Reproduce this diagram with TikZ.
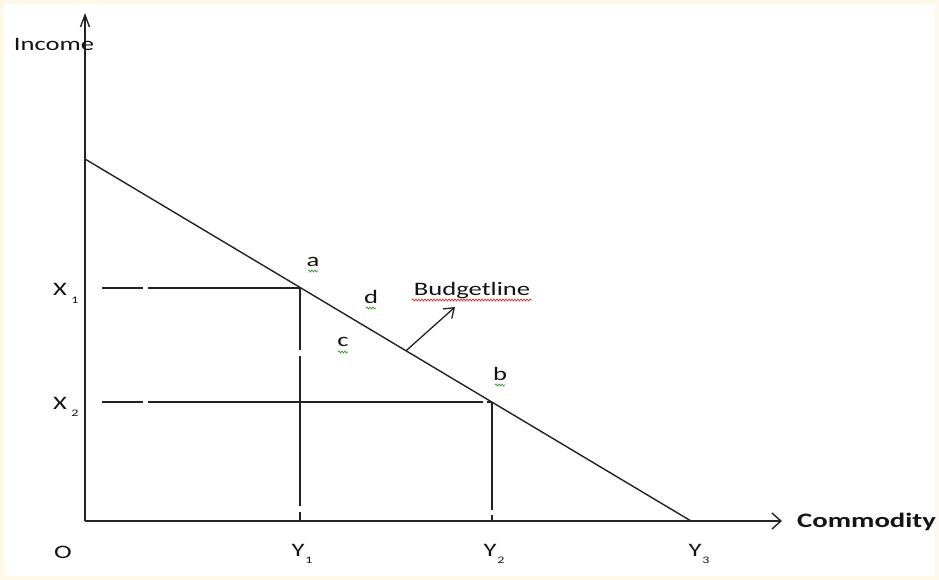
\documentclass[tikz,border=0pt]{standalone}
\usepackage{fontspec}
\setmainfont{Carlito}[FakeStretch=1.4]
\usetikzlibrary{arrows.meta,decorations.pathmorphing}
\definecolor{cream}{RGB}{253,248,232}
\definecolor{ink}{RGB}{35,35,35}
\definecolor{txt}{RGB}{20,20,20}
\definecolor{spellgreen}{RGB}{60,150,50}
\definecolor{spellred}{RGB}{215,45,45}
\begin{document}
\begin{tikzpicture}[x=1pt,y=-1pt,
  axis/.style={draw=ink,line width=1.4pt},
  guide/.style={draw=ink,line width=1.4pt},
  lbl/.style={inner sep=0pt,text=txt,font=\fontsize{19}{22}\selectfont},
  sub/.style={inner sep=0pt,text=txt,font=\fontsize{10}{11}\selectfont},
  squig/.style={decorate,decoration={snake,segment length=3pt,amplitude=1pt},line width=0.7pt}]
\fill[cream] (0,0) rectangle (939,580);
\fill[white] (4,4) rectangle (935,576);
\useasboundingbox (0,0) rectangle (939,580);
% key points
\coordinate (O) at (85,521);
\coordinate (ytop) at (85,13);
\coordinate (xend) at (782,521);
\coordinate (B0) at (85,159);
\coordinate (B1) at (691,521);
\coordinate (A) at (300,288);
\coordinate (B) at (492,402);
\coordinate (X1s) at (102,288);
\coordinate (X2s) at (102,402);
\coordinate (Y1b) at (300,521);
\coordinate (Y2b) at (492,521);
\coordinate (P) at (406,350.8);
\coordinate (Q) at (455,307);
% axes
\draw[axis,-{Straight Barb[length=12pt,width=9pt]}] (O) -- (ytop);
\draw[axis,-{Straight Barb[length=9pt,width=16pt]}] (O) -- (xend);
% budget line
\draw[axis] (B0) -- (B1);
% guides
\draw[guide,dash pattern=on 41pt off 5pt on 300pt] (X1s) -- (A);
\draw[guide,dash pattern=on 62pt off 6pt on 150pt off 6pt on 20pt] (A) -- (Y1b);
\draw[guide,dash pattern=on 41pt off 5pt on 335pt off 4pt on 20pt] (X2s) -- (B);
\draw[guide,dash pattern=on 108pt off 5pt on 20pt] (B) -- (Y2b);
% budget-line arrow
\draw[draw=ink,line width=1.3pt,-{Straight Barb[length=9pt,width=13pt]}] (P) -- (Q);
% labels
\node[lbl] (inc) at (54,44) {Income};
\node[lbl,font=\fontsize{20.5}{23}\selectfont\bfseries,anchor=west] (com) at (797,522) {Commodity};
\node[lbl] (x1) at (60,289) {X};
\node[sub] (x1s) at (75,300) {1};
\node[lbl] (x2) at (60,403) {X};
\node[sub] (x2s) at (75,413) {2};
\node[lbl] (o) at (63,552) {O};
\node[lbl] (y1) at (298,550) {Y};
\node[sub] (y1s) at (309,560) {1};
\node[lbl] (y2) at (490,550) {Y};
\node[sub] (y2s) at (501,560) {2};
\node[lbl] (y3) at (695,550) {Y};
\node[sub] (y3s) at (706,560) {3};
\node[lbl] (la) at (313,262) {a};
\node[lbl] (ld) at (371,297) {d};
\node[lbl] (lc) at (343,342) {c};
\node[lbl] (lb) at (500,374) {b};
\node[lbl] (bl) at (472,291) {Budgetline};
% spell-check squiggles
\draw[squig,spellgreen] ([xshift=-5pt,yshift=-9pt]la.center) -- ([xshift=5pt,yshift=-9pt]la.center);
\draw[squig,spellgreen] ([xshift=-5pt,yshift=-11pt]ld.center) -- ([xshift=5pt,yshift=-11pt]ld.center);
\draw[squig,spellgreen] ([xshift=-5pt,yshift=-10pt]lc.center) -- ([xshift=5pt,yshift=-10pt]lc.center);
\draw[squig,spellgreen] ([xshift=-5pt,yshift=-11pt]lb.center) -- ([xshift=5pt,yshift=-11pt]lb.center);
\draw[squig,spellred] (412,300) -- (532,300);
\end{tikzpicture}
\end{document}
